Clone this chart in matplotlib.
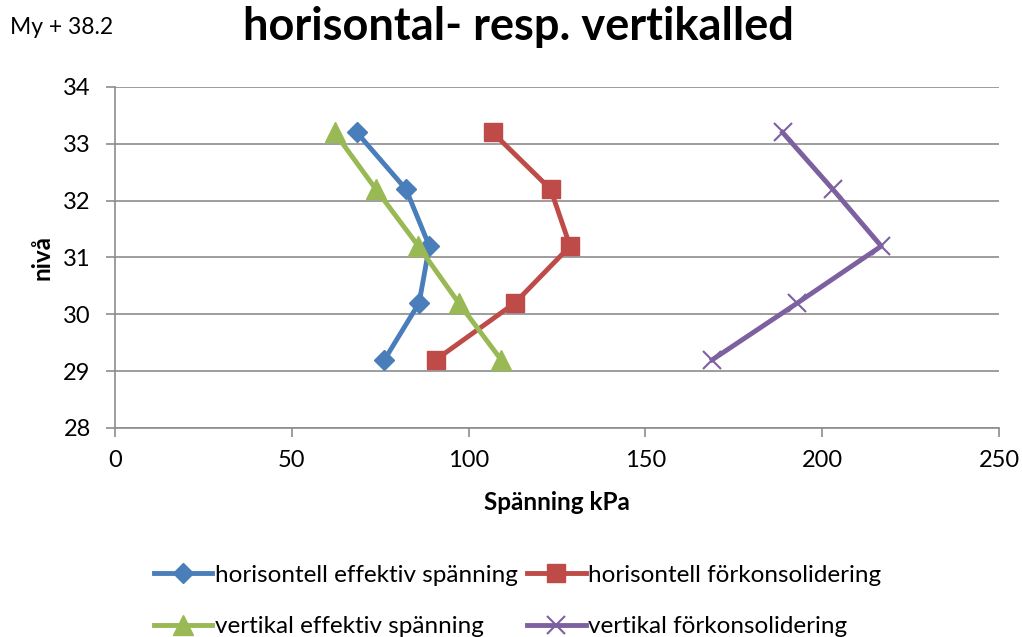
import matplotlib
matplotlib.use("Agg")
import matplotlib.pyplot as plt

plt.rcParams['font.family'] = ['Lato', 'DejaVu Sans']

niva = [33.2, 32.2, 31.2, 30.2, 29.2]
h_eff = [68.4, 82.3, 88.9, 86.0, 76.2]
h_fork = [106.8, 123.2, 128.7, 113.1, 90.7]
v_eff = [62.1, 73.8, 85.8, 97.2, 109.2]
v_fork = [188.8, 203.0, 216.7, 193.0, 168.9]

labels = ["horisontell effektiv spänning", "horisontell förkonsolidering",
          "vertikal effektiv spänning", "vertikal förkonsolidering"]

fig = plt.figure(figsize=(10.22, 6.37), dpi=100)
ax = fig.add_axes([115 / 1022, 1 - 428 / 637, (999 - 115) / 1022, (428 - 87) / 637])

l1, = ax.plot(h_eff, niva, color='#4A7EBB', lw=3.5, marker='D', ms=10.5, zorder=3)
l2, = ax.plot(h_fork, niva, color='#BE4B48', lw=3.5, marker='s', ms=13.5, zorder=3)
l3, = ax.plot(v_eff, niva, color='#98B954', lw=3.5, marker='^', ms=14.5, zorder=3)
l4, = ax.plot(v_fork, niva, color='#7D60A0', lw=3.5, marker='x', ms=13.5, mew=1.5, zorder=3)

ax.set_xlim(0, 250)
ax.set_ylim(28, 34)
ax.set_xticks(range(0, 251, 50))
ax.set_yticks(range(28, 35))
ax.grid(axis='y', color='#8c8c8c', lw=1.2)
ax.set_axisbelow(True)
for s in ['top', 'right']:
    ax.spines[s].set_visible(False)
for s in ['left', 'bottom']:
    ax.spines[s].set_color('#8c8c8c')
    ax.spines[s].set_linewidth(1.2)
ax.tick_params(colors='#8c8c8c', labelcolor='black', labelsize=17, length=6.5, width=1.2)
ax.tick_params(axis='x', pad=9)
ax.tick_params(axis='y', pad=11)

ax.set_xlabel("Spänning kPa", fontsize=17.5, fontweight='bold', labelpad=15)
ax.set_ylabel("nivå", fontsize=17.5, fontweight='bold', labelpad=7)

fig.text(518 / 1022, 1 - 27 / 637, "horisontal- resp. vertikalled", fontsize=32.5,
         fontweight='bold', ha='center', va='center')
fig.text(10 / 1022, 1 - 27 / 637, "My + 38.2", fontsize=16.5, ha='left', va='center')

# legend fills column-wise, so order the handles to get two rows
fig.legend([l1, l3, l2, l4], [labels[0], labels[2], labels[1], labels[3]],
           ncol=2, loc='center left', frameon=False,
           bbox_to_anchor=(132 / 1022, 1 - 601 / 637), fontsize=17.5,
           handlelength=2.4, handletextpad=0.1, columnspacing=0.4, labelspacing=1.25)

fig.savefig("out.png", dpi=100)
